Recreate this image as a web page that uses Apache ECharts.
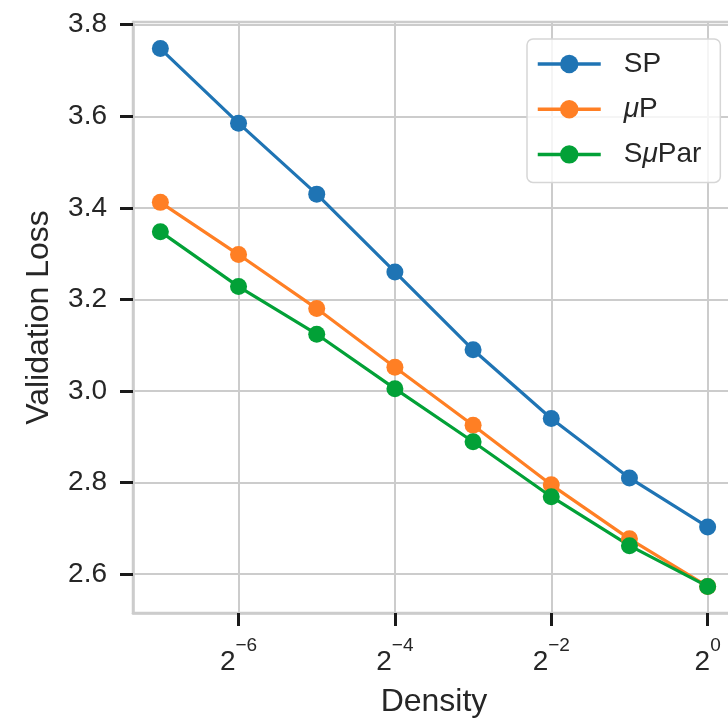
<!DOCTYPE html>
<html>
<head>
<meta charset="utf-8">
<script src="https://cdn.jsdelivr.net/npm/echarts@6/dist/echarts.min.js"></script>
<style>
  html, body { margin: 0; padding: 0; background: #fff; }
  #chart { width: 728px; height: 720px; }
</style>
</head>
<body>
<div id="chart"></div>
<script>
// density exponents (density = 2^exp)
const densityExp = [-7, -6, -5, -4, -3, -2, -1, 0]
const spLoss = [3.748, 3.585, 3.430, 3.260, 3.090, 2.940, 2.810, 2.703]
const muPLoss = [3.412, 3.298, 3.180, 3.052, 2.925, 2.795, 2.677, 2.573]
const suParLoss = [3.348, 3.228, 3.124, 3.005, 2.889, 2.769, 2.662, 2.573]
const xTicks = [-6, -4, -2, 0]
const yTicks = [2.6, 2.8, 3.0, 3.2, 3.4, 3.6, 3.8]

const colors = ['#1f74b4', '#ff7f24', '#02a137']
const font = '"Liberation Sans", Arial, sans-serif'

const chart = echarts.init(document.getElementById('chart'))

function makeSeries(name, values, color) {
  return {
    name: name,
    type: 'line',
    data: densityExp.map((e, i) => [e, values[i]]),
    symbol: 'circle',
    symbolSize: 17,
    lineStyle: { color: color, width: 3.2 },
    itemStyle: { color: color },
    emphasis: { disabled: true },
    z: 3
  }
}

const option = {
  animation: false,
  color: colors,
  grid: {
    left: 133,
    top: 22,
    width: 602,
    height: 591,
    outerBoundsMode: 'none',
    containLabel: false,
    show: true,
    borderColor: '#cccccc',
    borderWidth: 2.5
  },
  legend: {
    orient: 'vertical',
    left: 527,
    top: 39,
    itemWidth: 63,
    itemHeight: 23,
    itemGap: 17.2,
    padding: [11, 19, 14, 9],
    backgroundColor: 'rgba(255,255,255,0.8)',
    borderColor: '#d6d6d6',
    borderWidth: 1.5,
    borderRadius: 6,
    lineStyle: { width: 3.5 },
    textStyle: {
      fontFamily: font,
      fontSize: 28,
      color: '#262626',
      lineHeight: 23,
      padding: [0, 0, 0, 18],
      rich: {
        i: { fontFamily: font, fontSize: 28, fontStyle: 'italic', color: '#262626', lineHeight: 23 }
      }
    },
    formatter: name => name.replace('μ', '{i|μ}'),
    data: ['SP', 'μP', 'SμPar']
  },
  xAxis: {
    type: 'value',
    min: -7.35,
    max: 0.35,
    name: 'Density',
    nameLocation: 'middle',
    nameGap: 73,
    nameTextStyle: { fontFamily: font, fontSize: 32, color: '#262626' },
    axisLine: { show: true, onZero: false, lineStyle: { color: '#cccccc', width: 2.5 } },
    axisTick: {
      show: true,
      inside: false,
      customValues: xTicks,
      length: 13,
      lineStyle: { color: '#1a1a1a', width: 3 }
    },
    axisLabel: {
      customValues: xTicks,
      margin: 35,
      formatter: v => '{b|2}{s|' + (v === 0 ? '0' : '\u2212' + Math.abs(v)) + '}',
      rich: {
        b: { fontFamily: font, fontSize: 28, color: '#262626', verticalAlign: 'bottom', lineHeight: 28 },
        s: { fontFamily: font, fontSize: 19, color: '#262626', verticalAlign: 'bottom', lineHeight: 19, padding: [0, 0, 21, 0] }
      }
    },
    splitLine: { show: true, lineStyle: { color: '#cccccc', width: 2 } }
  },
  yAxis: {
    type: 'value',
    min: 2.515,
    max: 3.806,
    name: 'Validation Loss',
    nameLocation: 'middle',
    nameGap: 78,
    nameTextStyle: { fontFamily: font, fontSize: 32, color: '#262626' },
    axisLine: { show: true, onZero: false, lineStyle: { color: '#cccccc', width: 2.5 } },
    axisTick: {
      show: true,
      inside: false,
      customValues: yTicks,
      length: 13,
      lineStyle: { color: '#1a1a1a', width: 3 }
    },
    axisLabel: {
      customValues: yTicks,
      margin: 26,
      fontFamily: font,
      fontSize: 28,
      color: '#262626',
      formatter: v => v.toFixed(1)
    },
    splitLine: { show: true, lineStyle: { color: '#cccccc', width: 2 } }
  },
  series: [
    makeSeries('SP', spLoss, colors[0]),
    makeSeries('μP', muPLoss, colors[1]),
    makeSeries('SμPar', suParLoss, colors[2])
  ]
}

chart.setOption(option)
</script>
</body>
</html>
